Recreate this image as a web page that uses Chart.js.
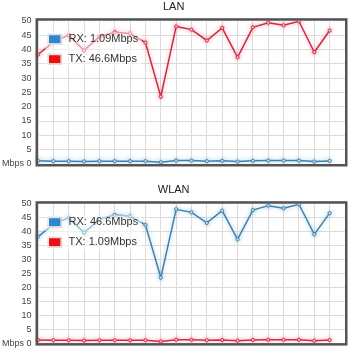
<!DOCTYPE html>
<html>
<head>
<meta charset="utf-8">
<script src="https://cdn.jsdelivr.net/npm/chart.js@4/dist/chart.umd.min.js"></script>
<style>
  html, body { margin: 0; padding: 0; background: #fff; }
  canvas { position: absolute; left: 0; }
  #chartLan { top: 0; }
  #chartWlan { top: 183px; }
</style>
</head>
<body>
<canvas id="chartLan" width="350" height="183"></canvas>
<canvas id="chartWlan" width="350" height="172"></canvas>
<script>
// muestras (eje x sin etiquetas visibles, 0..20)
const xLabels = ["0","1","2","3","4","5","6","7","8","9","10","11","12","13","14","15","16","17","18","19","20"];

// LAN
const lanRx = [1.1, 1.0, 1.0, 0.9, 1.0, 1.0, 1.0, 1.0, 0.6, 1.2, 1.2, 1.0, 1.1, 0.85, 1.1, 1.2, 1.2, 1.2, 0.85, 1.09];
const lanTx = [38.2, 42.5, 45.0, 39.6, 44.4, 46.0, 45.5, 42.4, 23.5, 48.0, 46.9, 43.1, 47.5, 37.2, 47.7, 49.3, 48.4, 49.8, 39.0, 46.6];

// WLAN
const wlanRx = [38.2, 42.5, 45.0, 39.6, 44.4, 46.0, 45.5, 42.4, 23.5, 48.0, 46.9, 43.1, 47.5, 37.2, 47.7, 49.3, 48.4, 49.8, 39.0, 46.6];
const wlanTx = [1.1, 1.0, 1.0, 0.9, 1.0, 1.0, 1.0, 1.0, 0.6, 1.2, 1.2, 1.0, 1.1, 0.85, 1.1, 1.2, 1.2, 1.2, 0.85, 1.09];

const legendLan = ["RX: 1.09Mbps", "TX: 46.6Mbps"];
const legendWlan = ["RX: 46.6Mbps", "TX: 1.09Mbps"];

const yMin = 0, yMax = 50, yStep = 5;

const FONT = "'Liberation Sans', Arial, sans-serif";
const BLUE = "#3f80aa", RED = "#cc2a40";
const BLUE_SWATCH = "#2d87cf", RED_SWATCH = "#ee1010";

// brillo suave alrededor de las líneas
const glow = {
  id: "glow",
  beforeDatasetDraw(chart, args) {
    const ds = chart.data.datasets[args.index];
    chart.ctx.save();
    chart.ctx.shadowColor = ds.glowColor;
    chart.ctx.shadowBlur = 4;
  },
  afterDatasetDraw(chart) { chart.ctx.restore(); }
};

// marco oscuro + leyenda dentro del área
const frame = {
  id: "frame",
  afterDraw(chart, args, opts) {
    const { ctx, chartArea: a } = chart;
    ctx.save();
    // leyenda
    const lx = a.left + 9.5, ly = a.top + 13;
    ctx.fillStyle = "rgba(255,255,255,0.5)";
    ctx.fillRect(lx - 2, ly - 2, 96, 36);
    opts.items.forEach((it, i) => {
      const y = ly + i * 20;
      ctx.fillStyle = "#fff";
      ctx.fillRect(lx, y, 14.5, 11);
      ctx.strokeStyle = "#d4d4d4";
      ctx.lineWidth = 1;
      ctx.strokeRect(lx + 0.5, y + 0.5, 13.5, 10);
      ctx.fillStyle = it.color;
      ctx.fillRect(lx + 1.5, y + 1.5, 11.5, 8);
      ctx.fillStyle = "#333";
      ctx.font = "11px " + FONT;
      ctx.textBaseline = "middle";
      ctx.fillText(it.label, lx + 21, y + 5.5);
    });
    // marco
    ctx.strokeStyle = "#545454";
    ctx.lineWidth = 2.5;
    ctx.strokeRect(a.left - 1.25, a.top - 1.25, a.right - a.left + 2.5, a.bottom - a.top + 2.5);
    ctx.restore();
  }
};

function makeChart(id, title, rx, tx, legend, padBottom) {
  const ctx = document.getElementById(id);
  return new Chart(ctx, {
    type: "line",
    data: {
      labels: xLabels,
      datasets: [
        { label: "RX", data: rx, borderColor: BLUE, glowColor: "rgba(110,170,210,0.6)",
          borderWidth: 1.5, pointRadius: 1.6, pointBorderWidth: 1,
          pointBackgroundColor: "#d6e6f0", pointBorderColor: BLUE, tension: 0 },
        { label: "TX", data: tx, borderColor: RED, glowColor: "rgba(240,110,130,0.6)",
          borderWidth: 1.5, pointRadius: 1.6, pointBorderWidth: 1,
          pointBackgroundColor: "#f4d0d6", pointBorderColor: RED, tension: 0 }
      ]
    },
    options: {
      responsive: false,
      animation: false,
      layout: { padding: { left: 0, right: 2.7, top: 0, bottom: padBottom } },
      plugins: {
        legend: { display: false },
        tooltip: { enabled: false },
        title: { display: true, text: title, color: "#222",
          font: { size: 11, family: FONT, weight: "normal" },
          padding: { top: 0, bottom: 7.5 } },
        frame: { items: [
          { label: legend[0], color: BLUE_SWATCH },
          { label: legend[1], color: RED_SWATCH }
        ] }
      },
      scales: {
        x: {
          type: "category", offset: false,
          grid: { color: "#dcdcdc", drawTicks: false },
          border: { display: false },
          ticks: { display: false },
          afterFit: (s) => { s.height = 0; }
        },
        y: {
          min: yMin, max: yMax,
          grid: { color: "#dcdcdc", drawTicks: false },
          border: { display: false },
          ticks: { stepSize: yStep, autoSkip: false, padding: 6.5, color: "#444",
            font: { size: 9, family: FONT },
            callback: (v) => v === 0 ? "Mbps 0" : `${v}` },
          afterFit: (s) => { s.width = 38; }
        }
      }
    },
    plugins: [glow, frame]
  });
}

makeChart("chartLan", "LAN", lanRx, lanTx, legendLan, 19);
makeChart("chartWlan", "WLAN", wlanRx, wlanTx, legendWlan, 7.3);
</script>
</body>
</html>
